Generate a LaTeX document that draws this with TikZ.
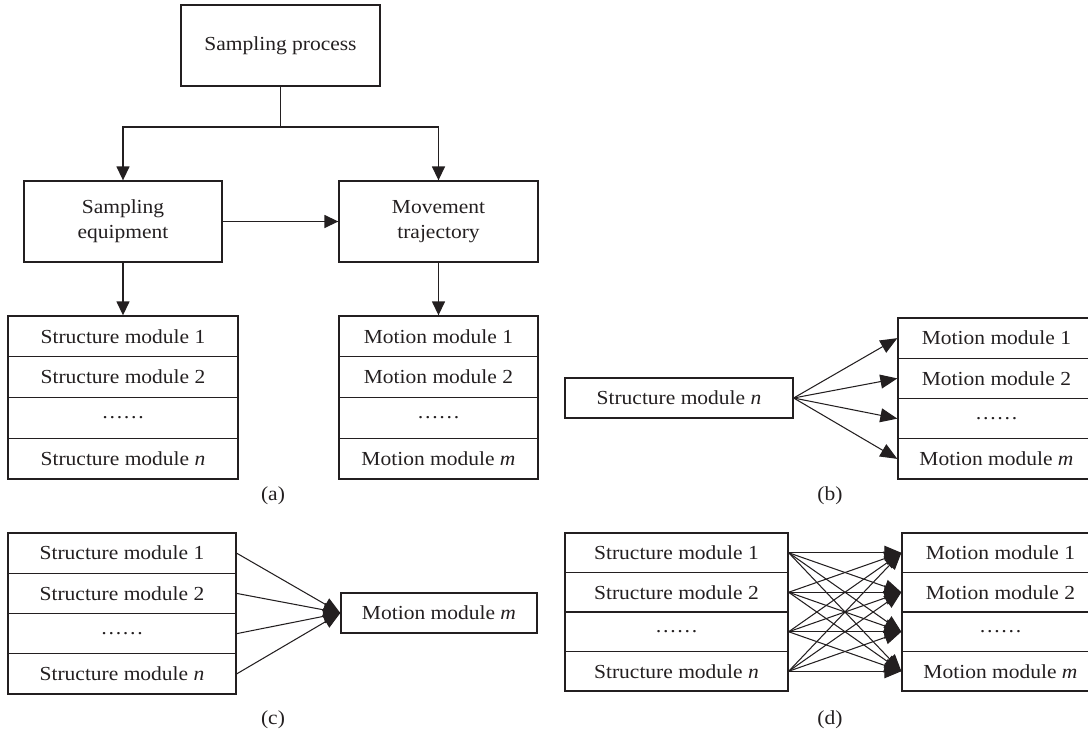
\documentclass[tikz,border=0pt]{standalone}
\usepackage{fontspec}
\setmainfont{Liberation Serif}[FakeStretch=1.08]
\usetikzlibrary{arrows.meta}
\definecolor{ink}{RGB}{35,31,32}
\begin{document}
\begin{tikzpicture}[x=1pt,y=-1pt,
  txt/.style={text=ink, font=\fontsize{19.9}{25}\selectfont},
  box/.style={txt, draw=ink, line width=1.3pt, inner sep=0pt, align=center},
  cell/.style={box, minimum width=#1, minimum height=40.5pt},
  flow/.style={draw=ink, line width=1.4pt, -{Triangle[length=14pt,width=13pt]}},
  fan/.style={draw=ink, line width=1.05pt, -{Triangle[length=17pt,width=14pt]}}]
\useasboundingbox (0,0) rectangle (1088,737);

% ---------- (a) hierarchy ----------
\node[box, minimum width=199pt, minimum height=81pt] (sp) at (280.5,45.5) {Sampling process};
\node[box, minimum width=198pt, minimum height=81pt] (se) at (123,221.5) {Sampling\\equipment};
\node[box, minimum width=199pt, minimum height=81pt] (mt) at (438.5,221.5) {Movement\\trajectory};
\coordinate (split) at (280.5,127);
\draw[draw=ink, line width=1.4pt] (sp.south) -- (split);
\draw[flow] (split) -| (se.north);
\draw[flow] (split) -| (mt.north);
\draw[flow] (se.east) -- (mt.west);

\foreach \i/\t [count=\k] in {sa1/{Structure module 1},sa2/{Structure module 2},sa3/{……},sa4/{Structure module \textit{n}}}
  \node[cell=230pt, minimum height=40.75pt] (\i) at (123,295.6+40.75*\k) {\t};
\foreach \i/\t [count=\k] in {ma1/{Motion module 1},ma2/{Motion module 2},ma3/{……},ma4/{Motion module \textit{m}}}
  \node[cell=199pt, minimum height=40.75pt] (\i) at (438.5,295.6+40.75*\k) {\t};
\draw[flow] (se.south) -- (sa1.north);
\draw[flow] (mt.south) -- (ma1.north);
\node[txt] (la) at (273,496) {(a)};

% ---------- (b) one structure module to many motion modules ----------
\node[cell=228pt, minimum height=40pt] (sbn) at (679,398) {Structure module \textit{n}};
\foreach \i/\t [count=\k] in {mb1/{Motion module 1},mb2/{Motion module 2},mb3/{……},mb4/{Motion module \textit{m}}}
  \node[cell=197pt, minimum height=40.25pt] (\i) at (996.5,297.9+40.25*\k) {\t};
\foreach \i in {mb1,mb2,mb3,mb4}
  \draw[fan] (sbn.east) -- (\i.west);
\node[txt] (lb) at (830,496) {(b)};

% ---------- (c) many structure modules to one motion module ----------
\foreach \i/\t [count=\k] in {sc1/{Structure module 1},sc2/{Structure module 2},sc3/{……},sc4/{Structure module \textit{n}}}
  \node[cell=228pt, minimum height=40.25pt] (\i) at (122,512.9+40.25*\k) {\t};
\node[cell=196pt, minimum height=40pt] (mcm) at (439,613) {Motion module \textit{m}};
\foreach \i in {sc1,sc2,sc3,sc4}
  \draw[fan] (\i.east) -- (mcm.west);
\node[txt] (lc) at (273,720) {(c)};

% ---------- (d) many structure modules to many motion modules ----------
\foreach \i/\t [count=\k] in {sd1/{Structure module 1},sd2/{Structure module 2},sd3/{……},sd4/{Structure module \textit{n}}}
  \node[cell=223pt, minimum height=39.5pt] (\i) at (676.5,513.25+39.5*\k) {\t};
\foreach \i/\t [count=\k] in {md1/{Motion module 1},md2/{Motion module 2},md3/{……},md4/{Motion module \textit{m}}}
  \node[cell=197pt, minimum height=39.5pt] (\i) at (1000.5,513.25+39.5*\k) {\t};
\foreach \s in {sd1,sd2,sd3,sd4}
  \foreach \m in {md1,md2,md3,md4}
    \draw[fan] (\s.east) -- (\m.west);
\node[txt] (ld) at (830,720) {(d)};
\end{tikzpicture}
\end{document}
